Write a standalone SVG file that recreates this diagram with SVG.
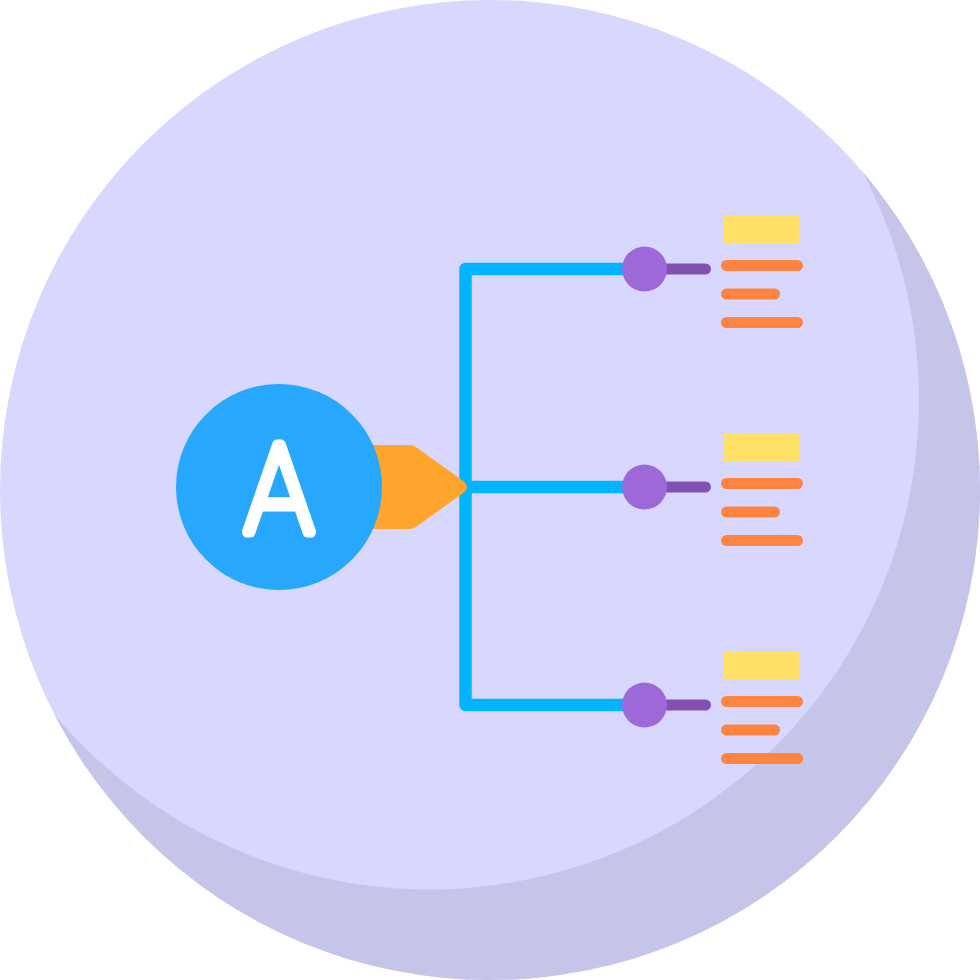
<svg xmlns="http://www.w3.org/2000/svg" width="980" height="980" viewBox="0 0 980 980">
<style>
.o{stroke:#ff8441;stroke-width:11;stroke-linecap:round;fill:none}
.s{stroke:#8150b0;stroke-width:11;stroke-linecap:round;fill:none}
.y{fill:#ffe066}
.d{fill:#9f68d8}
.b{stroke:#00b4ff;stroke-width:12.5;fill:none;stroke-linejoin:round}
.t{font-family:"Roboto","Liberation Sans",sans-serif;font-weight:100;font-size:123px;fill:#fff;stroke:#fff;stroke-width:11;stroke-linejoin:round}
</style>
<defs><clipPath id="c"><circle cx="490" cy="490" r="490"/></clipPath>
<g id="item"><path class="s" d="M660 269H705.500"/><circle class="d" cx="644.500" cy="269" r="22.500"/><rect class="y" x="724" y="215" width="76" height="29"/><path class="o" d="M726.500 265.500H797.500M726.500 294H774.500M726.500 322.500H797.500"/></g></defs>
<g id="background"><circle cx="490" cy="490" r="490" fill="#d8d8fe"/><path clip-path="url(#c)" fill-rule="evenodd" fill="#c5c5ea" d="M0 0H980V980H0ZM429.500 -89.500a489.500 489.500 0 1 0 0.010 0Z"/></g>
<g id="connectors"><path class="b" d="M623 269H465.500V705H623M465.500 487H623"/></g>
<g id="pointer"><path d="M365 445H410Q413 445 415.500 446.800L464 481.500Q470 487 464 492.500L415.500 527.200Q413 529 410 529H365Z" fill="#ffa52e"/></g>
<g id="hub"><circle cx="279" cy="487" r="103" fill="#28a8fd"/><text class="t" transform="translate(279 532) scale(.92 1)" text-anchor="middle">A</text></g>
<g id="branch-1"><use href="#item"/></g>
<g id="branch-2"><use href="#item" y="218"/></g>
<g id="branch-3"><use href="#item" y="436"/></g>
</svg>
